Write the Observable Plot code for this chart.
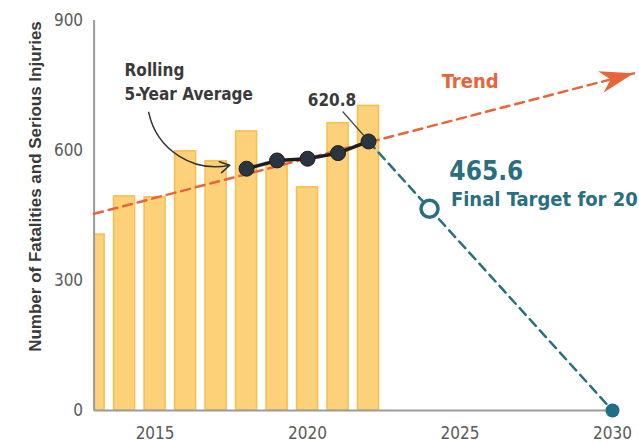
<!DOCTYPE html>
<html><head><meta charset="utf-8">
<script src="https://cdn.jsdelivr.net/npm/d3@7"></script>
<script src="https://cdn.jsdelivr.net/npm/@observablehq/plot@0.6"></script>
<style>
html,body{margin:0;padding:0;background:#fff;overflow:hidden}
</style></head><body><div id="chart"></div>
<script>
// ---- data ----
const years = [2013, 2014, 2015, 2016, 2017, 2018, 2019, 2020, 2021, 2022];
const totals = [406, 494, 492, 598, 575, 644, 569, 515, 663, 703];
const avgYears = [2018, 2019, 2020, 2021, 2022];
const avgValues = [558, 577, 581, 594, 620.8];
const trendYears = [2013, 2030.7];
const trendValues = [454, 778];
const targetYears = [2022, 2024, 2030];
const targetValues = [620.8, 465.6, 0];
const yTicks = [0, 300, 600, 900];
const xTicks = [2015, 2020, 2025, 2030];
const yLabel = "Number of Fatalities and Serious Injuries";
const avgNote = ["Rolling", "5-Year Average"];
const avgNoteAnchor = {x: 2014.0, y: 716};
const avgArrow = {x1: 2014.79, y1: 688, x2: 2017.45, y2: 566};
const lastAvgLabel = {x: 2020.8, y: 716, text: "620.8"};
const lastAvgLeader = {x1: 2021.15, y1: 690, x2: 2021.85, y2: 634};
const trendLabel = {x: 2024.4, y: 759, text: "Trend"};
const targetValueLabel = {x: 2024.65, y: 550, text: "465.6"};
const targetNoteLabel = {x: 2024.7, y: 486, text: "Final Target for 2024"};

const bars = years.map((year, i) => ({year, value: totals[i]}));
const avg = avgYears.map((year, i) => ({year, value: avgValues[i]}));
const trend = trendYears.map((year, i) => ({year, value: trendValues[i]}));
const target = targetYears.map((year, i) => ({year, value: targetValues[i]}));

// ---- layout / style ----
const W = 639, H = 444, mL = 93.6, mR = 27, mT = 20, mB = 34;
const FONT = "'DejaVu Sans Condensed', 'DejaVu Sans', sans-serif";
const ORANGE = "#E8643A", TEAL = "#2A6F80", NAVY = "#2B3441";
const xDom = [2013, 2030], yDom = [0, 900];
// screen angle of trend line for arrowhead
const pxX = (W - mL - mR) / (xDom[1] - xDom[0]);
const pxY = (H - mT - mB) / (yDom[1] - yDom[0]);
const trendAngle = Math.atan2(-(trendValues[1] - trendValues[0]) * pxY, (trendYears[1] - trendYears[0]) * pxX) * 180 / Math.PI;
const arrowHead = {draw(ctx) { ctx.moveTo(0, 0); ctx.lineTo(-34, -11); ctx.lineTo(-24, 0); ctx.lineTo(-34, 11); ctx.closePath(); }};

const chart = Plot.plot({
  width: W, height: H,
  marginLeft: mL, marginRight: mR, marginTop: mT, marginBottom: mB,
  x: {domain: xDom},
  y: {domain: yDom},
  style: {fontFamily: FONT, background: "#fff", overflow: "visible"},
  marks: [
    Plot.rectY(bars, {x1: d => d.year - 0.345, x2: d => d.year + 0.345, y: "value", fill: "#FDD17A", stroke: "#F5BF4C", strokeWidth: 1.5, clip: true}),
    Plot.ruleX([xDom[0]], {y1: yDom[0], y2: yDom[1], stroke: "#9b9b9b", strokeWidth: 2}),
    Plot.ruleY([0], {x1: xDom[0], x2: xDom[1], stroke: "#9b9b9b", strokeWidth: 2}),
    Plot.axisY(yTicks, {tickSize: 0, tickPadding: 11, fontSize: 17, fill: "#5a5a5a", label: null, tickFormat: "d"}),
    Plot.axisX(xTicks, {tickSize: 0, tickPadding: 16, fontSize: 17, fill: "#5a5a5a", label: null, tickFormat: "d"}),
    Plot.text([yLabel], {text: d => d, frameAnchor: "left", textAnchor: "middle", rotate: -90, dx: 35 - mL, dy: -29, fontSize: 17, fontWeight: "bold", fill: "#3a3a3a", fontFamily: "'Liberation Sans', sans-serif"}),
    // trend
    Plot.line(trend, {x: "year", y: "value", stroke: ORANGE, strokeWidth: 2.5, strokeDasharray: "9,6"}),
    Plot.dot([trend[1]], {x: "year", y: "value", symbol: arrowHead, fill: ORANGE, stroke: "none", rotate: trendAngle}),
    Plot.text([trendLabel], {x: "x", y: "y", text: "text", textAnchor: "start", fontSize: 20, fontWeight: "bold", fill: ORANGE}),
    // target
    Plot.line(target, {x: "year", y: "value", stroke: TEAL, strokeWidth: 2.5, strokeDasharray: "9,6"}),
    Plot.dot([target[1]], {x: "year", y: "value", r: 8.5, fill: "#fff", stroke: TEAL, strokeWidth: 3.5}),
    Plot.dot([target[2]], {x: "year", y: "value", r: 7, fill: "#1F6F87"}),
    Plot.text([targetValueLabel], {x: "x", y: "y", text: "text", textAnchor: "start", fontSize: 26, fontWeight: "bold", fill: TEAL}),
    Plot.text([targetNoteLabel], {x: "x", y: "y", text: "text", textAnchor: "start", fontSize: 20, fontWeight: "bold", fill: TEAL}),
    // rolling average
    Plot.line(avg, {x: "year", y: "value", stroke: "#1e1e1e", strokeWidth: 3.5}),
    Plot.dot(avg, {x: "year", y: "value", r: 7.5, fill: NAVY, stroke: "#1e1e1e", strokeWidth: 1}),
    Plot.text([avgNote.join("\n")], {x: avgNoteAnchor.x, y: avgNoteAnchor.y, text: d => d, textAnchor: "start", lineAnchor: "bottom", lineHeight: 1.4, fontSize: 17, fontWeight: "bold", fill: "#3a3a3a"}),
    Plot.arrow([avgArrow], {x1: "x1", y1: "y1", x2: "x2", y2: "y2", bend: -45, headLength: 11, stroke: "#333", strokeWidth: 1.5}),
    Plot.text([lastAvgLabel], {x: "x", y: "y", text: "text", fontSize: 17, fontWeight: "bold", fill: "#3a3a3a"}),
    Plot.link([lastAvgLeader], {x1: "x1", y1: "y1", x2: "x2", y2: "y2", stroke: "#444", strokeWidth: 1.2})
  ]
});
document.getElementById("chart").appendChild(chart);
</script>
</body></html>
